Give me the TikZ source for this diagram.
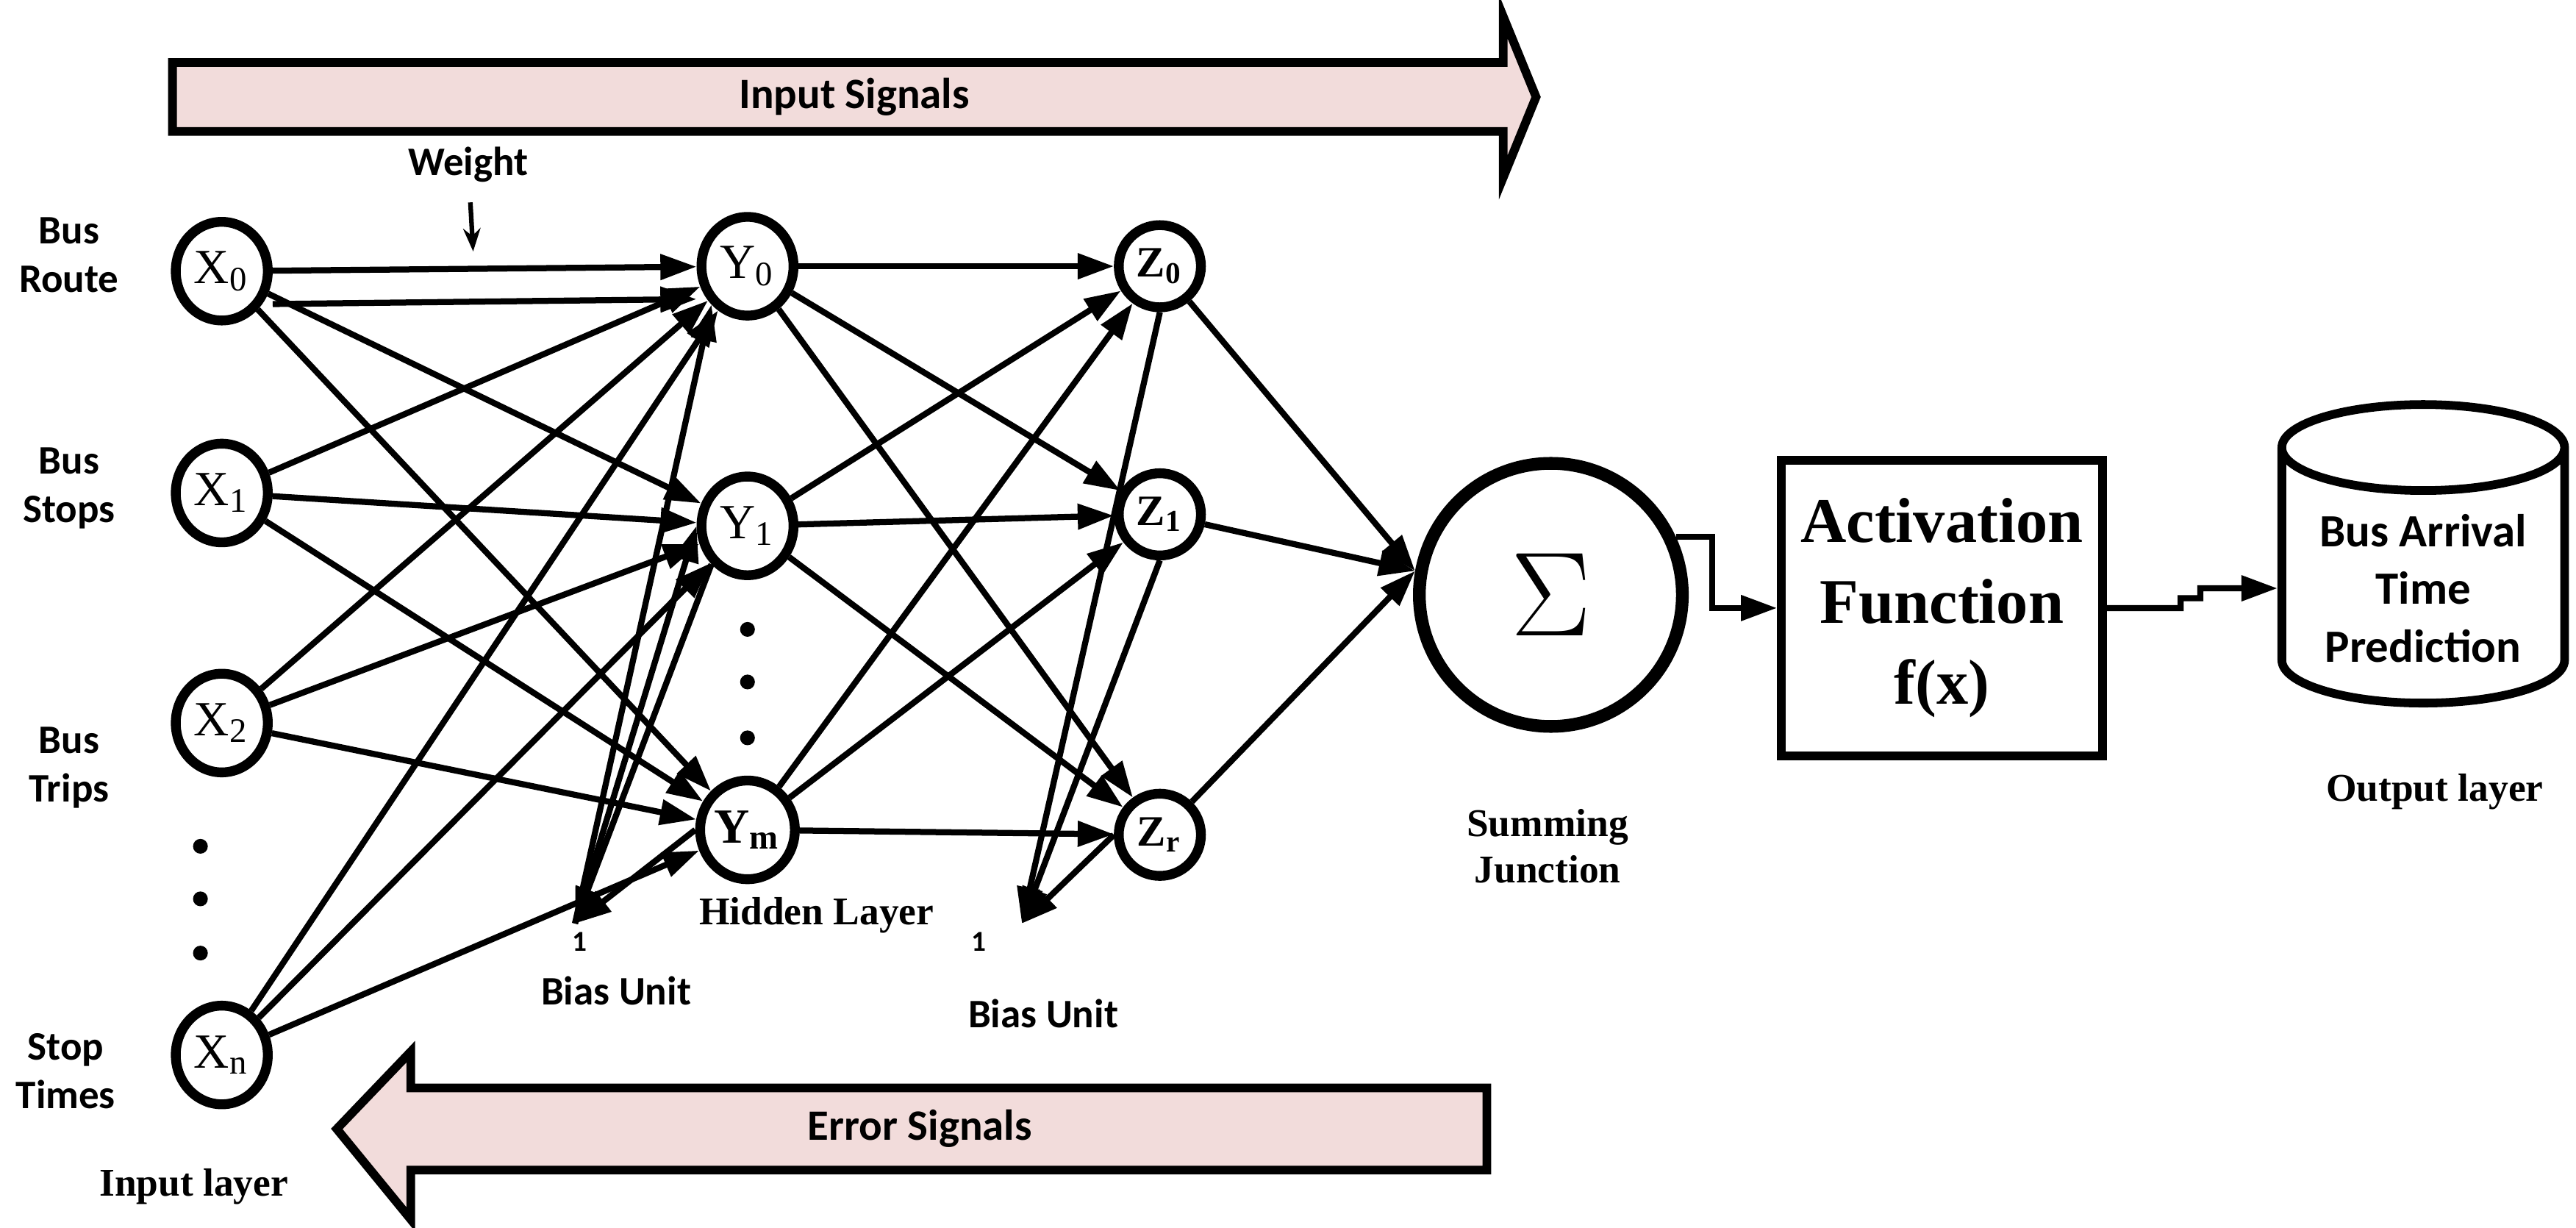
\documentclass[tikz,border=0pt]{standalone}
\usepackage{fontspec}
\setmainfont{Liberation Serif}
\newfontfamily\carl{Carlito}
\usetikzlibrary{arrows.meta,shapes.geometric}
\definecolor{pinkf}{HTML}{F2DCDB}
\begin{document}
\begin{tikzpicture}[x=0.01cm,y=-0.01cm,
  neu/.style={draw,line width=1.7pt,ellipse,inner sep=0pt,font=\fontsize{8.5}{9}\selectfont},
  xn/.style={neu,minimum width=0.56cm,minimum height=0.6cm},
  zn/.style={neu,minimum width=0.5cm,minimum height=0.5cm,font=\fontsize{7.5}{9}\selectfont\bfseries},
  con/.style={line width=1.05pt,-{Triangle[length=2.2mm,width=1.5mm]}},
  lab/.style={font=\carl\bfseries\fontsize{7}{8.4}\selectfont,align=center},
  tlab/.style={font=\bfseries\fontsize{6.8}{8}\selectfont,align=center},
  dot/.style={circle,fill,inner sep=0pt,minimum size=0.09cm}]
\useasboundingbox (0,0) rectangle (1568,747);
% signal arrows
\draw[line width=1.5pt,fill=pinkf] (105,38) -- (915,38) -- (915,10) -- (935,59) -- (915,108) -- (915,80) -- (105,80) -- cycle;
\node[lab,font=\carl\bfseries\fontsize{7.5}{9}\selectfont] (ins) at (520,59) {Input Signals};
\draw[line width=1.5pt,fill=pinkf] (905,662) -- (250,662) -- (250,640) -- (205,687) -- (250,742) -- (250,712) -- (905,712) -- cycle;
\node[lab,font=\carl\bfseries\fontsize{7.5}{9}\selectfont] (ers) at (560,687) {Error Signals};
% nodes
\node[xn] (x0) at (135,165) {X\textsubscript{0}};
\node[xn] (x1) at (135,300) {X\textsubscript{1}};
\node[xn] (x2) at (135,440) {X\textsubscript{2}};
\node[xn] (xn) at (135,642) {X\textsubscript{n}};
\node[xn] (y0) at (455,162) {Y\textsubscript{0}};
\node[xn] (y1) at (455,320) {Y\textsubscript{1}};
\node[xn] (ym) at (455,505) {\bfseries Y\textsubscript{m}};
\node[zn] (z0) at (706,162) {Z\textsubscript{0}};
\node[zn] (z1) at (706,313) {Z\textsubscript{1}};
\node[zn] (zr) at (706,508) {Z\textsubscript{r}};
\node[draw,circle,line width=2.2pt,minimum size=1.6cm,font=\fontsize{22}{24}\selectfont] (sig) at (944,362) {$\Sigma$};
\node[draw,line width=1.5pt,minimum width=1.95cm,minimum height=1.8cm,align=center,font=\bfseries\fontsize{11}{14}\selectfont] (act) at (1182,370) {Activation\\Function\\f(x)};
\node[draw,cylinder,shape border rotate=90,aspect=0.35,line width=1.5pt,minimum width=1.72cm,minimum height=1.8cm,align=center,lab,font=\carl\bfseries\fontsize{8}{10}\selectfont] (cyl) at (1475,358) {Bus Arrival\\Time\\Prediction};
% dots
\foreach \y/\n in {515/a,547/b,580/c} \node[dot] (dx\n) at (122,\y) {};
\foreach \y/\n in {383/a,415/b,449/c} \node[dot] (dy\n) at (455,\y) {};
% labels
\node[lab] (lr) at (42,155) {Bus\\Route};
\node[lab] (ls) at (42,297) {Bus\\Stops};
\node[lab] (lt) at (42,467) {Bus\\Trips};
\node[lab] (lst) at (40,652) {Stop\\Times};
\node[tlab] (il) at (118,722) {Input layer};
\node[tlab] (hl) at (497,557) {Hidden Layer};
\node[tlab] (sj) at (942,515) {Summing\\Junction};
\node[tlab] (ol) at (1482,482) {Output layer};
\node[lab] (wt) at (285,100) {Weight};
\node[lab,font=\carl\bfseries\fontsize{5}{6}\selectfont] (b1) at (353,573) {1};
\node[lab] (bu1) at (375,603) {Bias Unit};
\node[lab,font=\carl\bfseries\fontsize{5}{6}\selectfont] (b2) at (596,573) {1};
\node[lab] (bu2) at (635,617) {Bias Unit};
\coordinate (bp1) at (350,562);
\coordinate (bp2) at (622,562);
\coordinate (wtip) at (288,153);
\draw[line width=0.8pt,-{Stealth[length=1.4mm]}] (wt) -- (wtip);
% connections
\foreach \a in {x0,x1,x2,xn} \foreach \b in {y0,y1,ym} \draw[con] (\a) -- (\b);
\draw[con] ([yshift=-0.2cm]x0.east) -- ([yshift=-0.2cm]y0.west);
\foreach \a in {y0,y1,ym} \foreach \b in {z0,z1,zr} \draw[con] (\a) -- (\b);
\foreach \a in {z0,z1,zr} \draw[con] (\a) -- (sig.170);
% bias
\draw[con] (bp1) -- (y0.south west);
\draw[con] (bp1) -- (y1.west);
\draw[con] (y1.south west) -- (bp1);
\draw[con] (ym.west) -- (bp1);
\draw[con] (z0.south) -- (bp2);
\draw[con] (z1.south) -- (bp2);
\draw[con] (zr.west) -- (bp2);
% output path
\draw[con] (sig.25) -- ++(22,0) |- (act.west);
\draw[con] (act.east) -- ++(45,0) -- ++(0,-6) -- ++(12,0) -- ++(0,-6) -- (cyl.west);
\end{tikzpicture}
\end{document}
